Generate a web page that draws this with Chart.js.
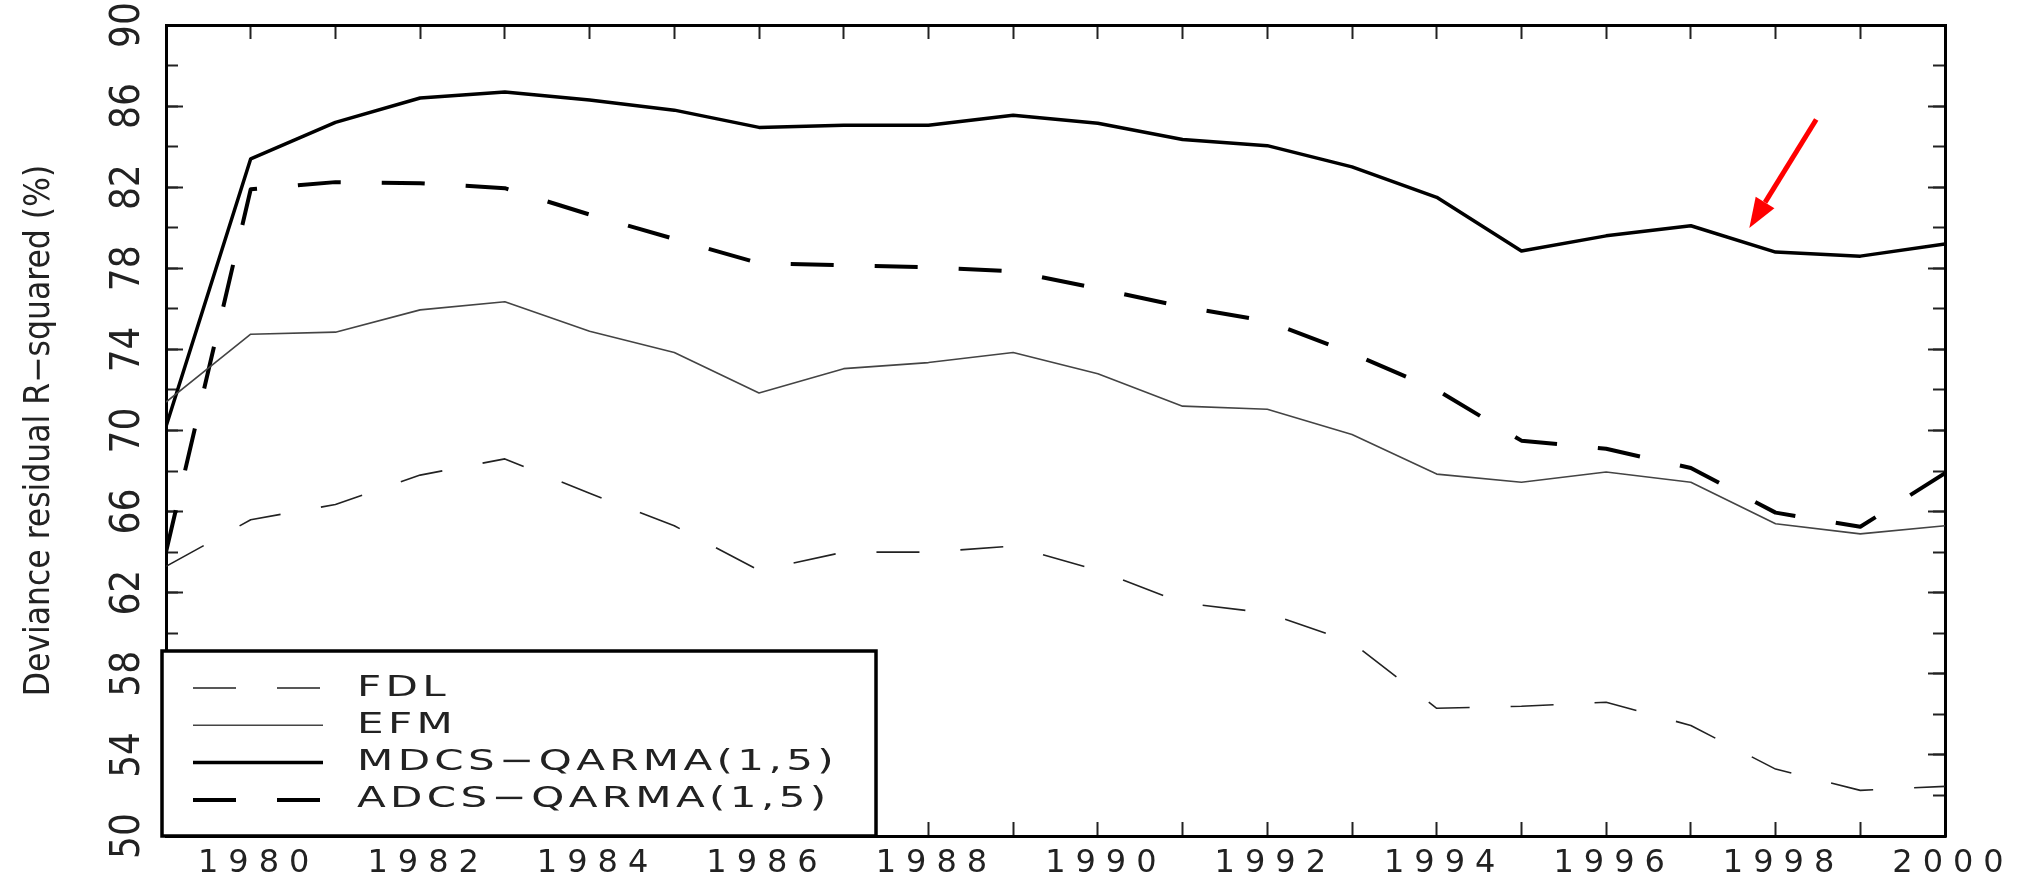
<!DOCTYPE html>
<html>
<head>
<meta charset="utf-8">
<title>Deviance residual R-squared</title>
<script src="https://cdn.jsdelivr.net/npm/chart.js@4.4.1/dist/chart.umd.min.js"></script>
<style>
    html, body { margin: 0; padding: 0; background: #fff; }
    #wrap { width: 2024px; height: 880px; }
</style>
</head>
<body>
<div id="wrap"><canvas id="chart" width="2024" height="880"></canvas></div>
<script>
// Values, one per year
const years = [1979, 1980, 1981, 1982, 1983, 1984, 1985, 1986, 1987, 1988, 1989,
               1990, 1991, 1992, 1993, 1994, 1995, 1996, 1997, 1998, 1999, 2000];
const fdlValues  = [63.3, 65.6, 66.35, 67.8, 68.6, 66.9, 65.3, 63.1, 64.0, 64.0, 64.3,
                    63.1, 61.5, 61.0, 59.55, 56.3, 56.4, 56.6, 55.45, 53.3, 52.25, 52.45];
const efmValues  = [71.4, 74.75, 74.85, 75.95, 76.35, 74.9, 73.85, 71.85, 73.05, 73.35, 73.85,
                    72.8, 71.2, 71.05, 69.8, 67.85, 67.45, 67.95, 67.45, 65.4, 64.9, 65.3];
const mdcsValues = [70.2, 83.4, 85.2, 86.4, 86.7, 86.3, 85.8, 84.95, 85.05, 85.05, 85.55,
                    85.15, 84.35, 84.05, 83.0, 81.5, 78.85, 79.6, 80.1, 78.8, 78.6, 79.2];
const adcsValues = [64.0, 81.9, 82.25, 82.2, 81.95, 80.65, 79.45, 78.25, 78.15, 78.05, 77.85,
                    77.0, 76.1, 75.4, 73.8, 72.0, 69.5, 69.1, 68.15, 65.95, 65.25, 67.9];
const seriesNames = ['FDL', 'EFM', 'MDCS−QARMA(1,5)', 'ADCS−QARMA(1,5)'];
const xTickLabels = [1980, 1982, 1984, 1986, 1988, 1990, 1992, 1994, 1996, 1998, 2000];
const yTickLabels = [50, 54, 58, 62, 66, 70, 74, 78, 82, 86, 90];

// Red arrow pointing at the MDCS line (tail, tip) in data units
const arrowTail = [1998.48, 85.34];
const arrowTip = [1997.69, 79.99];

const narrowFont = "'Liberation Sans Narrow', 'DejaVu Sans Condensed', 'Arial Narrow', 'Liberation Sans', sans-serif";
const wideFont = "'DejaVu Sans', 'Liberation Sans', sans-serif";

// Turn a list of values into {x, y} points on the year axis
function toPoints(values) {
    return values.map((v, i) => ({ x: years[i], y: v }));
}

// Measure a text so the rotated y labels can be centred
function measureText(text, font) {
    const ctx = document.createElement('canvas').getContext('2d');
    ctx.font = font;
    return ctx.measureText(text).width;
}

const yLabelWidth = measureText('90', `40px ${narrowFont}`);

// Tick marks that point into the plot
function inwardTicks(length) {
    return { drawOnChartArea: false, drawTicks: true, tickLength: -length, tickWidth: 2, tickColor: '#222' };
}

// Fixed axis size, without the extra label padding Chart.js adds to the layout
function fixedSize(prop, size) {
    return (s) => {
        s[prop] = size;
        s.paddingTop = 0;
        s.paddingBottom = 0;
        s.paddingLeft = 0;
        s.paddingRight = 0;
    };
}

const frameBorder = { display: true, color: '#000', width: 3 };

// Letter spacing for the wide x labels (drawn after the datasets, z = 1)
const letterSpacingPlugin = {
    id: 'letterSpacing',
    beforeDraw(chart) { chart.ctx.letterSpacing = '0px'; },
    afterDatasetsDraw(chart) { chart.ctx.letterSpacing = '10px'; },
    afterDraw(chart) { chart.ctx.letterSpacing = '0px'; }
};

// Boxed legend in the lower left corner of the plot
const legendBoxPlugin = {
    id: 'legendBox',
    afterDraw(chart) {
        const ctx = chart.ctx;
        const area = chart.chartArea;
        const left = area.left - 4, top = 651, right = 876, bottom = area.bottom;
        const stretch = 1.45;
        ctx.save();
        ctx.fillStyle = '#fff';
        ctx.fillRect(left, top, right - left, bottom - top);
        ctx.setLineDash([]);
        ctx.lineWidth = 3.5;
        ctx.strokeStyle = '#000';
        ctx.strokeRect(left, top, right - left, bottom - top);

        ctx.font = `29px ${wideFont}`;
        ctx.letterSpacing = '3px';
        ctx.textBaseline = 'middle';
        chart.data.datasets.forEach((ds, i) => {
            const y = 688 + i * 37.3;
            ctx.beginPath();
            ctx.setLineDash(ds.borderDash || []);
            ctx.lineWidth = ds.borderWidth;
            ctx.strokeStyle = ds.borderColor;
            ctx.moveTo(left + 31, y);
            ctx.lineTo(left + 161, y);
            ctx.stroke();
            // wide lettering as in the original figure
            ctx.save();
            ctx.scale(stretch, 1);
            ctx.fillStyle = '#222';
            ctx.fillText(ds.label, (left + 195) / stretch, y);
            ctx.restore();
        });
        ctx.restore();
    }
};

// Red annotation arrow
const arrowPlugin = {
    id: 'arrow',
    afterDraw(chart) {
        const { x, y } = chart.scales;
        const x0 = x.getPixelForValue(arrowTail[0]), y0 = y.getPixelForValue(arrowTail[1]);
        const x1 = x.getPixelForValue(arrowTip[0]), y1 = y.getPixelForValue(arrowTip[1]);
        const angle = Math.atan2(y1 - y0, x1 - x0);
        const headLen = 30, headHalf = 11;
        const bx = x1 - headLen * Math.cos(angle), by = y1 - headLen * Math.sin(angle);
        const ctx = chart.ctx;
        ctx.save();
        ctx.strokeStyle = '#ff0000';
        ctx.fillStyle = '#ff0000';
        ctx.lineWidth = 5;
        ctx.setLineDash([]);
        ctx.beginPath();
        ctx.moveTo(x0, y0);
        ctx.lineTo(bx, by);
        ctx.stroke();
        ctx.beginPath();
        ctx.moveTo(x1, y1);
        ctx.lineTo(bx + headHalf * Math.sin(angle), by - headHalf * Math.cos(angle));
        ctx.lineTo(bx - headHalf * Math.sin(angle), by + headHalf * Math.cos(angle));
        ctx.closePath();
        ctx.fill();
        ctx.restore();
    }
};

const lineDefaults = { pointRadius: 0, fill: false, tension: 0, borderJoinStyle: 'round' };

new Chart(document.getElementById('chart'), {
    type: 'line',
    data: {
        datasets: [
            { ...lineDefaults, label: seriesNames[0], data: toPoints(fdlValues), borderColor: '#222', borderWidth: 1.6, borderDash: [43, 41] },
            { ...lineDefaults, label: seriesNames[1], data: toPoints(efmValues), borderColor: '#444', borderWidth: 1.6 },
            { ...lineDefaults, label: seriesNames[2], data: toPoints(mdcsValues), borderColor: '#000', borderWidth: 3.5 },
            { ...lineDefaults, label: seriesNames[3], data: toPoints(adcsValues), borderColor: '#000', borderWidth: 4, borderDash: [43, 41] }
        ]
    },
    options: {
        responsive: false,
        devicePixelRatio: 1,
        animation: false,
        layout: { padding: { top: 25, right: 79, bottom: 0, left: 0 } },
        plugins: {
            legend: { display: false },
            tooltip: { enabled: false }
        },
        scales: {
            x: {
                type: 'linear', position: 'bottom', min: 1979, max: 2000,
                afterFit: fixedSize('height', 44),
                grid: inwardTicks(14),
                border: frameBorder,
                ticks: {
                    stepSize: 1, autoSkip: false, minRotation: 0, maxRotation: 0,
                    padding: 22, labelOffset: 8, z: 1, color: '#222',
                    font: { family: wideFont, size: 32 },
                    callback: (v) => xTickLabels.includes(v) ? String(v) : ''
                }
            },
            xTop: {
                type: 'linear', position: 'top', min: 1979, max: 2000,
                afterFit: fixedSize('height', 0),
                grid: inwardTicks(14),
                border: frameBorder,
                ticks: { stepSize: 1, autoSkip: false, display: false }
            },
            y: {
                type: 'linear', position: 'left', weight: 1, min: 50, max: 90,
                afterFit: fixedSize('width', 166),
                grid: inwardTicks(17),
                border: frameBorder,
                title: {
                    display: true, text: 'Deviance residual R−squared (%)', color: '#222',
                    font: { family: narrowFont, size: 35, lineHeight: 1 },
                    padding: { top: 22, bottom: 0 }
                },
                ticks: {
                    stepSize: 4, autoSkip: false, minRotation: 90, maxRotation: 90,
                    crossAlign: 'center', padding: 54.5 - yLabelWidth / 2, color: '#222',
                    font: { family: narrowFont, size: 40 },
                    callback: (v) => yTickLabels.includes(v) ? String(v) : ''
                }
            },
            yMinor: {
                type: 'linear', position: 'left', weight: 0, min: 50, max: 90,
                afterFit: fixedSize('width', 0),
                grid: inwardTicks(12),
                border: { display: false },
                ticks: { stepSize: 2, autoSkip: false, display: false }
            },
            yRight: {
                type: 'linear', position: 'right', min: 50, max: 90,
                afterFit: fixedSize('width', 0),
                grid: inwardTicks(17),
                border: frameBorder,
                ticks: { stepSize: 4, autoSkip: false, display: false }
            },
            yRightMinor: {
                type: 'linear', position: 'right', min: 50, max: 90,
                afterFit: fixedSize('width', 0),
                grid: inwardTicks(12),
                border: { display: false },
                ticks: { stepSize: 2, autoSkip: false, display: false }
            }
        }
    },
    plugins: [letterSpacingPlugin, legendBoxPlugin, arrowPlugin]
});
</script>
</body>
</html>
